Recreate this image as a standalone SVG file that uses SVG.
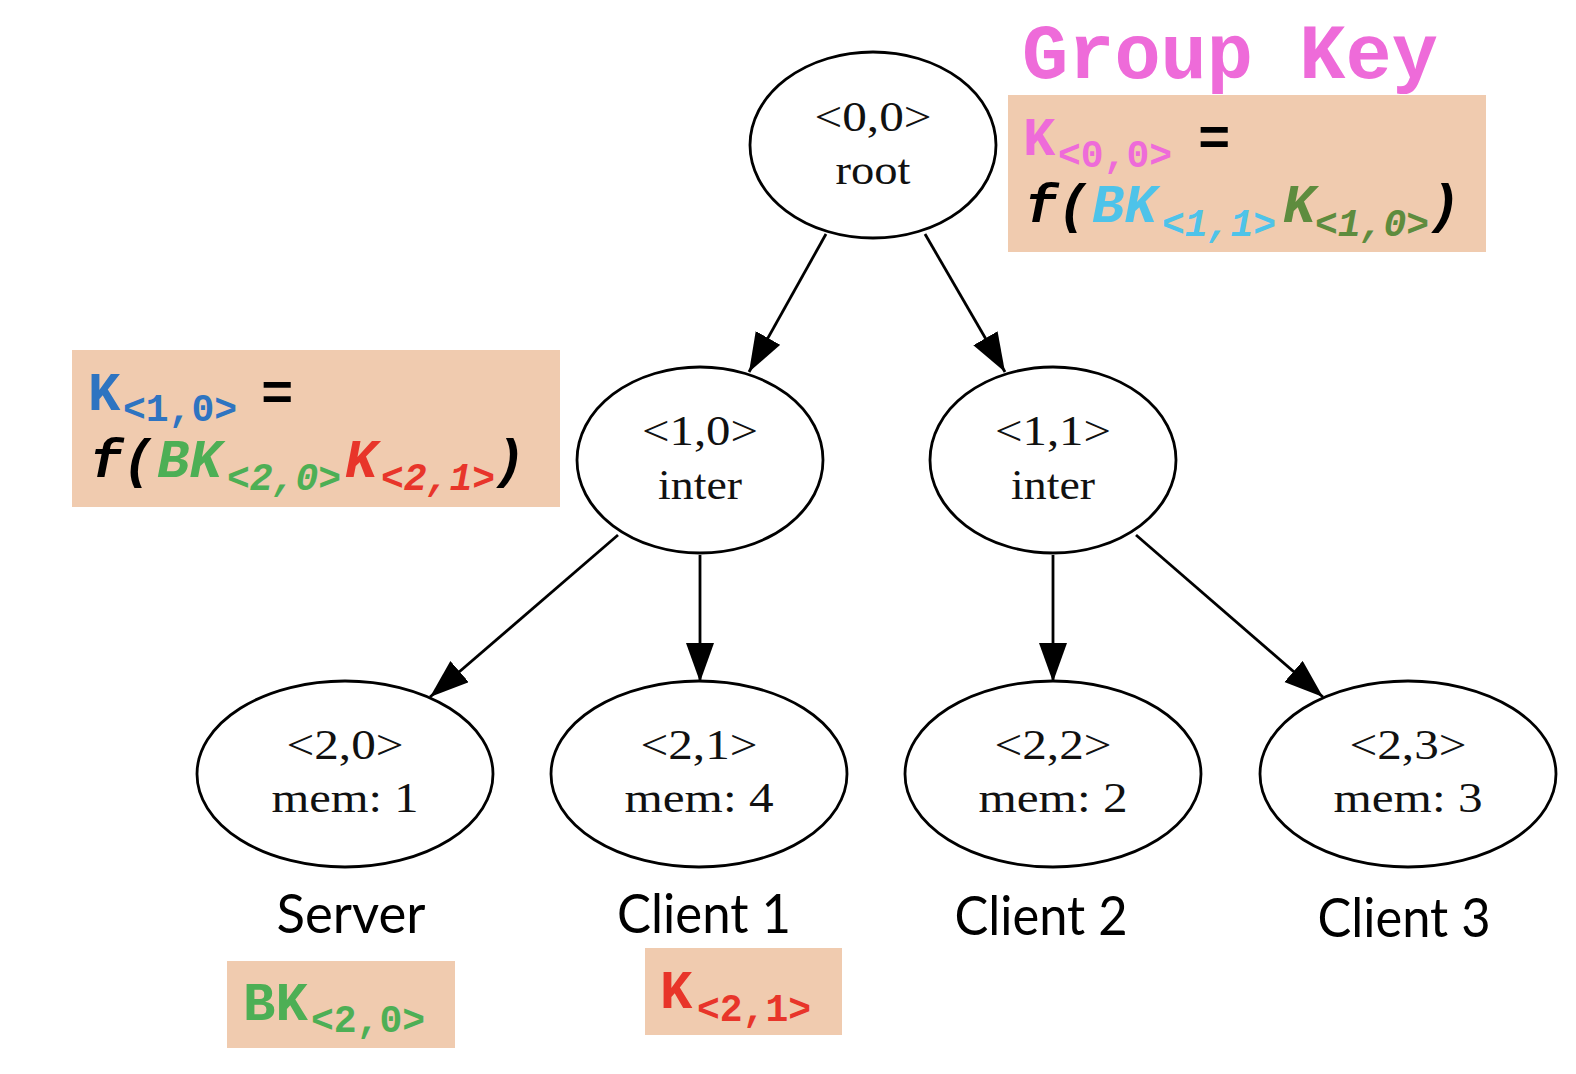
<svg xmlns="http://www.w3.org/2000/svg" width="1576" height="1074" viewBox="0 0 1576 1074">
<style>
.node ellipse{fill:#fff;stroke:#000;stroke-width:2.8}
.nt{font-family:"Liberation Serif","Times New Roman",serif;font-size:43px;fill:#111;text-anchor:middle}
.lbl{font-family:Lato,"Open Sans",sans-serif;font-size:54px;fill:#000;text-anchor:middle}
.edge{stroke:#000;stroke-width:2.8;fill:none;marker-end:url(#arr)}
.box{fill:#F0CBAF}
.mono{font-family:"Liberation Mono","Courier New",monospace;font-weight:bold}
.big{font-size:54px}
.sub{font-size:38px}
.it{font-style:italic}
.pink{fill:#EE6BD9}.cyan{fill:#4EC3E9}.dgreen{fill:#5E8C3E}.blue{fill:#2E74C1}.green{fill:#4DAF55}.red{fill:#E8352A}.blk{fill:#000}
</style>
<defs>
<marker id="arr" markerUnits="userSpaceOnUse" markerWidth="40" markerHeight="30" refX="39" refY="14" orient="auto">
<path d="M0,0 L39,14 L0,28 Z" fill="#000"/>
</marker>
</defs>
<g id="connectors">
<line class="edge" x1="826" y1="234" x2="749" y2="372"/>
<line class="edge" x1="925" y1="234" x2="1005" y2="372"/>
<line class="edge" x1="618" y1="535" x2="430" y2="697"/>
<line class="edge" x1="700" y1="555" x2="700" y2="682"/>
<line class="edge" x1="1053" y1="555" x2="1053" y2="682"/>
<line class="edge" x1="1136" y1="535" x2="1323" y2="697"/>
</g>
<g id="n00" class="node"><ellipse cx="873" cy="145" rx="123" ry="93"/>
<text class="nt" x="873" y="131" textLength="117" lengthAdjust="spacingAndGlyphs">&lt;0,0&gt;</text>
<text class="nt" x="873" y="184" textLength="75" lengthAdjust="spacingAndGlyphs">root</text></g>
<g id="n10" class="node"><ellipse cx="700" cy="460" rx="123" ry="93"/>
<text class="nt" x="700" y="445" textLength="116" lengthAdjust="spacingAndGlyphs">&lt;1,0&gt;</text>
<text class="nt" x="700" y="499" textLength="84" lengthAdjust="spacingAndGlyphs">inter</text></g>
<g id="n11" class="node"><ellipse cx="1053" cy="460" rx="123" ry="93"/>
<text class="nt" x="1053" y="445" textLength="116" lengthAdjust="spacingAndGlyphs">&lt;1,1&gt;</text>
<text class="nt" x="1053" y="499" textLength="84" lengthAdjust="spacingAndGlyphs">inter</text></g>
<g id="n20" class="node"><ellipse cx="345" cy="774" rx="148" ry="93"/>
<text class="nt" x="345" y="759" textLength="117" lengthAdjust="spacingAndGlyphs">&lt;2,0&gt;</text>
<text class="nt" x="345" y="812" textLength="147" lengthAdjust="spacingAndGlyphs">mem: 1</text></g>
<g id="n21" class="node"><ellipse cx="699" cy="774" rx="148" ry="93"/>
<text class="nt" x="699" y="759" textLength="117" lengthAdjust="spacingAndGlyphs">&lt;2,1&gt;</text>
<text class="nt" x="699" y="812" textLength="149" lengthAdjust="spacingAndGlyphs">mem: 4</text></g>
<g id="n22" class="node"><ellipse cx="1053" cy="774" rx="148" ry="93"/>
<text class="nt" x="1053" y="759" textLength="117" lengthAdjust="spacingAndGlyphs">&lt;2,2&gt;</text>
<text class="nt" x="1053" y="812" textLength="149" lengthAdjust="spacingAndGlyphs">mem: 2</text></g>
<g id="n23" class="node"><ellipse cx="1408" cy="774" rx="148" ry="93"/>
<text class="nt" x="1408" y="759" textLength="117" lengthAdjust="spacingAndGlyphs">&lt;2,3&gt;</text>
<text class="nt" x="1408" y="812" textLength="149" lengthAdjust="spacingAndGlyphs">mem: 3</text></g>
<g id="labels">
<text class="lbl" x="351" y="933" textLength="149" lengthAdjust="spacingAndGlyphs">Server</text>
<text class="lbl" x="704" y="933" textLength="174" lengthAdjust="spacingAndGlyphs">Client 1</text>
<text class="lbl" x="1041" y="935" textLength="173" lengthAdjust="spacingAndGlyphs">Client 2</text>
<text class="lbl" x="1404" y="937" textLength="173" lengthAdjust="spacingAndGlyphs">Client 3</text>
</g>
<g id="groupkey">
<text class="mono pink" x="1022" y="78" font-size="77">Group Key</text>
<rect class="box" x="1008" y="95" width="478" height="157"/>
<text class="mono big pink" x="1023" y="155">K</text>
<text class="mono sub pink" x="1058" y="167">&lt;0,0&gt;</text>
<text class="mono big blk" x="1198" y="155">=</text>
<text class="mono big blk it" x="1025" y="222">f(</text>
<text class="mono big cyan it" x="1092" y="222">BK</text>
<text class="mono sub cyan it" x="1162" y="236">&lt;1,1&gt;</text>
<text class="mono big dgreen it" x="1283" y="222">K</text>
<text class="mono sub dgreen it" x="1315" y="236">&lt;1,0&gt;</text>
<text class="mono big blk it" x="1428" y="222">)</text>
</g>
<g id="key10">
<rect class="box" x="72" y="350" width="488" height="157"/>
<text class="mono big blue" x="88" y="410">K</text>
<text class="mono sub blue" x="123" y="421">&lt;1,0&gt;</text>
<text class="mono big blk" x="261" y="410">=</text>
<text class="mono big blk it" x="90" y="477">f(</text>
<text class="mono big green it" x="157" y="477">BK</text>
<text class="mono sub green it" x="227" y="490">&lt;2,0&gt;</text>
<text class="mono big red it" x="345" y="477">K</text>
<text class="mono sub red it" x="381" y="490">&lt;2,1&gt;</text>
<text class="mono big blk it" x="493" y="477">)</text>
</g>
<g id="key20">
<rect class="box" x="227" y="961" width="228" height="87"/>
<text class="mono big green" x="243" y="1020">BK</text>
<text class="mono sub green" x="311" y="1032">&lt;2,0&gt;</text>
</g>
<g id="key21">
<rect class="box" x="645" y="948" width="197" height="87"/>
<text class="mono big red" x="660" y="1008">K</text>
<text class="mono sub red" x="697" y="1021">&lt;2,1&gt;</text>
</g>
</svg>
